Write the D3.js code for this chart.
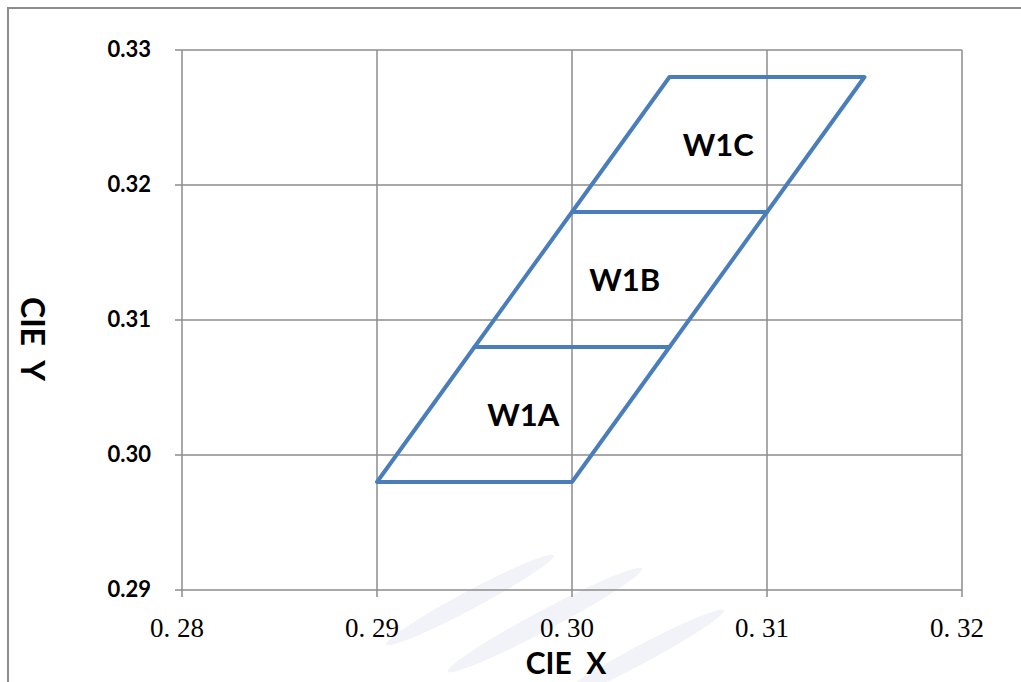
<!DOCTYPE html>
<html>
<head>
<meta charset="utf-8">
<script src="https://cdn.jsdelivr.net/npm/d3@7"></script>
<style>
  body { margin: 0; background: #fff; }
</style>
</head>
<body>
<div id="chart"></div>
<script>
/*---------- DATA ----------*/
const xTicks = [0.28, 0.29, 0.30, 0.31, 0.32];
const yTicks = [0.29, 0.30, 0.31, 0.32, 0.33];
const xTickLabels = ["0. 28", "0. 29", "0. 30", "0. 31", "0. 32"];
const yTickLabels = ["0.29", "0.30", "0.31", "0.32", "0.33"];

const binNames = ["W1A", "W1B", "W1C"];
// corner points of each bin (x, y), clockwise from bottom left
const binX = [
  [0.290, 0.300, 0.305, 0.295],
  [0.295, 0.305, 0.310, 0.300],
  [0.300, 0.310, 0.315, 0.305],
];
const binY = [
  [0.298, 0.298, 0.308, 0.308],
  [0.308, 0.308, 0.318, 0.318],
  [0.318, 0.318, 0.328, 0.328],
];
// label anchor points
const labelX = [0.2975, 0.3027, 0.3075];
const labelY = [0.3030, 0.3130, 0.3230];

/*---------- PLOTTING ----------*/
const width = 1021;
const height = 682;
const margin = { left: 182, right: 59, top: 50, bottom: 92 };
const sans = "Lato, 'Open Sans', 'Liberation Sans', sans-serif";

const svg = d3
  .select("#chart")
  .append("svg")
  .attr("width", width)
  .attr("height", height);

const x = d3.scaleLinear().domain([0.28, 0.32]).range([margin.left, width - margin.right]);
const y = d3.scaleLinear().domain([0.29, 0.33]).range([height - margin.bottom, margin.top]);

// Faint watermark swooshes
const swooshes = [
  { cx: 470, cy: 600, rx: 95, ry: 9, a: -28 },
  { cx: 545, cy: 620, rx: 110, ry: 10, a: -28 },
  { cx: 640, cy: 655, rx: 95, ry: 9, a: -28 },
];
svg
  .selectAll("ellipse.swoosh")
  .data(swooshes)
  .join("ellipse")
  .attr("class", "swoosh")
  .attr("cx", (d) => d.cx)
  .attr("cy", (d) => d.cy)
  .attr("rx", (d) => d.rx)
  .attr("ry", (d) => d.ry)
  .attr("transform", (d) => `rotate(${d.a}, ${d.cx}, ${d.cy})`)
  .attr("fill", "#f2f3f8");

// Outer border (top and left only visible)
svg
  .append("path")
  .attr("d", `M8,${height} L8,8 L${width},8`)
  .attr("fill", "none")
  .attr("stroke", "#8c8c8c")
  .attr("stroke-width", 2);

// Grid lines
svg
  .selectAll("line.vgrid")
  .data(xTicks)
  .join("line")
  .attr("class", "vgrid")
  .attr("x1", (d) => x(d))
  .attr("x2", (d) => x(d))
  .attr("y1", margin.top)
  .attr("y2", height - margin.bottom + 7)
  .attr("stroke", "#8c8c8c")
  .attr("stroke-width", 1.5);

svg
  .selectAll("line.hgrid")
  .data(yTicks)
  .join("line")
  .attr("class", "hgrid")
  .attr("x1", margin.left - 7)
  .attr("x2", width - margin.right)
  .attr("y1", (d) => y(d))
  .attr("y2", (d) => y(d))
  .attr("stroke", "#8c8c8c")
  .attr("stroke-width", 1.5);

// Tick labels
svg
  .selectAll("text.xtick")
  .data(xTicks)
  .join("text")
  .attr("class", "xtick")
  .attr("x", (d) => x(d) - 5)
  .attr("y", 637)
  .attr("text-anchor", "middle")
  .attr("font-family", "'Liberation Serif', 'DejaVu Serif', serif")
  .attr("font-size", "27px")
  .attr("fill", "#000")
  .attr("xml:space", "preserve")
  .text((d, i) => xTickLabels[i]);

svg
  .selectAll("text.ytick")
  .data(yTicks)
  .join("text")
  .attr("class", "ytick")
  .attr("x", 151)
  .attr("y", (d) => y(d) + 7)
  .attr("text-anchor", "end")
  .attr("font-family", sans)
  .attr("font-weight", "bold")
  .attr("font-size", "22px")
  .attr("fill", "#000")
  .text((d, i) => yTickLabels[i]);

// Axis titles
svg
  .append("text")
  .attr("x", 566)
  .attr("y", 674)
  .attr("text-anchor", "middle")
  .attr("font-family", sans)
  .attr("font-weight", "bold")
  .attr("font-size", "30px")
  .attr("fill", "#000")
  .attr("xml:space", "preserve")
  .text("CIE  X");

svg
  .append("text")
  .attr("transform", "translate(21, 339) rotate(90)")
  .attr("text-anchor", "middle")
  .attr("font-family", sans)
  .attr("font-weight", "bold")
  .attr("font-size", "32px")
  .attr("fill", "#000")
  .attr("xml:space", "preserve")
  .text("CIE  Y");

// Bin polygons
const line = d3
  .line()
  .x((d) => x(d[0]))
  .y((d) => y(d[1]));

const bins = binNames.map((name, i) => ({
  name: name,
  points: binX[i].map((v, j) => [v, binY[i][j]]),
}));

svg
  .selectAll("path.bin")
  .data(bins)
  .join("path")
  .attr("class", "bin")
  .attr("d", (d) => line(d.points) + "Z")
  .attr("fill", "none")
  .attr("stroke", "#4a7ebb")
  .attr("stroke-width", 4)
  .attr("stroke-linejoin", "round");

// Bin labels
svg
  .selectAll("text.binlabel")
  .data(bins)
  .join("text")
  .attr("class", "binlabel")
  .attr("x", (d, i) => x(labelX[i]))
  .attr("y", (d, i) => y(labelY[i]) + 11)
  .attr("text-anchor", "middle")
  .attr("font-family", sans)
  .attr("font-weight", "bold")
  .attr("font-size", "31px")
  .attr("fill", "#000")
  .text((d) => d.name);
</script>
</body>
</html>
